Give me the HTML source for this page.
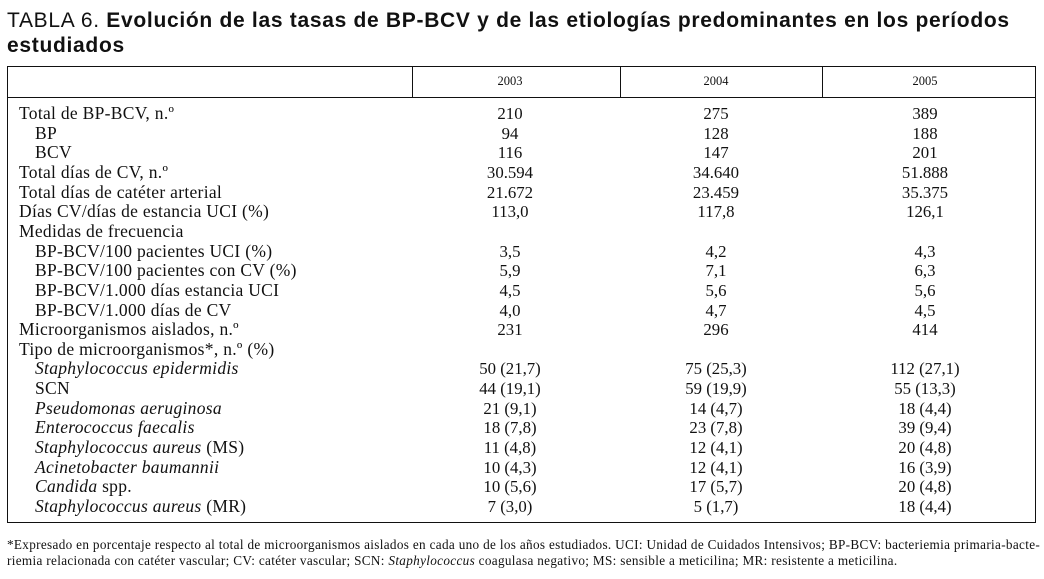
<!DOCTYPE html>
<html><head><meta charset="utf-8"><style>
body{margin:0;width:1044px;height:579px;background:#fff;position:relative;overflow:hidden;color:#111}
.t{position:absolute;left:7px;font-family:"Liberation Sans",sans-serif;font-size:21px;letter-spacing:0.7px;line-height:25px;white-space:nowrap}
.box{position:absolute;left:7px;top:66px;width:1027px;height:455px;border:1.5px solid #111}
.hl{position:absolute;left:7px;top:97px;width:1029px;border-top:1.3px solid #111}
.vl{position:absolute;top:66px;height:32px;border-left:1.3px solid #111}
.r{position:absolute;font-family:"Liberation Serif",serif;font-size:17.5px;letter-spacing:0.3px;line-height:19.6px;white-space:nowrap}
.c{position:absolute;font-family:"Liberation Serif",serif;font-size:16.8px;line-height:19.6px;white-space:nowrap;transform:translateX(-50%)}
.h{position:absolute;top:74px;font-family:"Liberation Serif",serif;font-size:12.5px;transform:translateX(-50%)}
.fn{position:absolute;left:7px;font-family:"Liberation Serif",serif;font-size:13.2px;letter-spacing:0.33px;white-space:nowrap}
</style></head><body>
<div class="t" style="top:8px">TABLA 6. <b>Evolución de las tasas de BP-BCV y de las etiologías predominantes en los períodos</b></div>
<div class="t" style="top:33px"><b>estudiados</b></div>
<div class="box"></div>
<div class="hl"></div>
<div class="vl" style="left:412px"></div>
<div class="vl" style="left:620px"></div>
<div class="vl" style="left:822px"></div>
<div class="h" style="left:510px">2003</div>
<div class="h" style="left:716px">2004</div>
<div class="h" style="left:925px">2005</div>
<div id="rows"></div>
<div class="fn" style="top:537px">*Expresado en porcentaje respecto al total de microorganismos aislados en cada uno de los años estudiados. UCI: Unidad de Cuidados Intensivos; BP-BCV: bacteriemia primaria-bacte-</div>
<div class="fn" style="top:553px">riemia relacionada con catéter vascular; CV: catéter vascular; SCN: <i>Staphylococcus</i> coagulasa negativo; MS: sensible a meticilina; MR: resistente a meticilina.</div>
<script>
const labels=["Total de BP-BCV, n.º","BP","BCV","Total días de CV, n.º","Total días de catéter arterial","Días CV/días de estancia UCI (%)","Medidas de frecuencia","BP-BCV/100 pacientes UCI (%)","BP-BCV/100 pacientes con CV (%)","BP-BCV/1.000 días estancia UCI","BP-BCV/1.000 días de CV","Microorganismos aislados, n.º","Tipo de microorganismos*, n.º (%)","<i>Staphylococcus epidermidis</i>","SCN","<i>Pseudomonas aeruginosa</i>","<i>Enterococcus faecalis</i>","<i>Staphylococcus aureus</i> (MS)","<i>Acinetobacter baumannii</i>","<i>Candida</i> spp.","<i>Staphylococcus aureus</i> (MR)"];
const indent=[0,1,1,0,0,0,0,1,1,1,1,0,0,1,1,1,1,1,1,1,1];
const v2003=["210","94","116","30.594","21.672","113,0","","3,5","5,9","4,5","4,0","231","","50 (21,7)","44 (19,1)","21 (9,1)","18 (7,8)","11 (4,8)","10 (4,3)","10 (5,6)","7 (3,0)"];
const v2004=["275","128","147","34.640","23.459","117,8","","4,2","7,1","5,6","4,7","296","","75 (25,3)","59 (19,9)","14 (4,7)","23 (7,8)","12 (4,1)","12 (4,1)","17 (5,7)","5 (1,7)"];
const v2005=["389","188","201","51.888","35.375","126,1","","4,3","6,3","5,6","4,5","414","","112 (27,1)","55 (13,3)","18 (4,4)","39 (9,4)","20 (4,8)","16 (3,9)","20 (4,8)","18 (4,4)"];
const root=document.getElementById('rows');
labels.forEach((l,i)=>{
  const y=104+i*19.65;
  const d=document.createElement('div');d.className='r';d.style.top=y+'px';d.style.left=(indent[i]?35:19)+'px';d.innerHTML=l;
  
  
  root.appendChild(d);
  [[v2003,510],[v2004,716],[v2005,925]].forEach(([arr,x])=>{
    if(!arr[i])return;
    const c=document.createElement('div');c.className='c';c.style.top=y+'px';c.style.left=x+'px';c.textContent=arr[i];
    
    
    root.appendChild(c);
  });
});
</script>
</body></html>
